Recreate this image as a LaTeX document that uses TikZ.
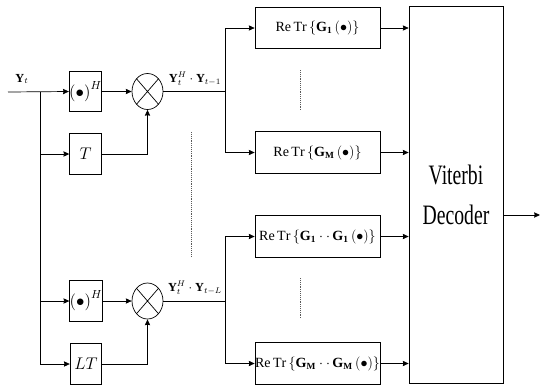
\documentclass[tikz,border=0pt]{standalone}
\usepackage{amsmath,amssymb}
\usepackage{fontspec}
\setmainfont{Liberation Serif}
\newfontfamily\vitfont[FakeStretch=0.7]{Liberation Serif}
\usepackage{tikz}
\usetikzlibrary{arrows.meta,positioning,shapes.geometric}
\newcommand{\dotop}{\left(\bullet\right)}
\newcommand{\retr}[1]{$\mathrm{Re}\,\mathrm{Tr}\left\{#1\dotop\right\}$}

\begin{document}
\begin{tikzpicture}[x=0.03cm,y=-0.03cm,
  blk/.style={draw,line width=0.6pt,minimum width=0.95cm,minimum height=1.22cm,
              inner sep=0pt,font=\Large},
  gbox/.style={draw,line width=0.6pt,minimum width=3.75cm,minimum height=1.24cm,
               inner sep=0pt,font=\fontsize{12}{14}\selectfont},
  mult/.style={draw,ellipse,line width=0.6pt,minimum width=0.93cm,minimum height=1.08cm,
               inner sep=0pt},
  arrow/.style={-{Stealth[length=5pt,width=4.5pt,inset=0.5pt]},line width=0.6pt},
  line/.style={line width=0.6pt},
  dots/.style={densely dotted,line width=0.6pt,gray!70!black},
  sig/.style={font=\fontsize{10.5}{12}\selectfont,inner sep=1pt}]

  \useasboundingbox (0,0) rectangle (544,386);

  % Input and splitting point
  \coordinate (in) at (8,92);
  \coordinate (split) at (40,92);
  \node[sig] (ylab) at (22,79) {$\mathbf{Y}_t$};

  % Upper delay branch
  \node[blk] (herm1) at (85.5,91.5) {$\dotop^{H}$};
  \node[blk] (tdel) at (85.5,154) {$T$};
  \node[mult] (mul1) at (147.5,91.5) {};
  \draw[line] (mul1.north west) -- (mul1.south east)
              (mul1.north east) -- (mul1.south west);

  % Lower delay branch
  \node[blk] (herm2) at (86,301) {$\dotop^{H}$};
  \node[blk] (ltdel) at (86,364) {$LT$};
  \node[mult] (mul2) at (147.5,301) {};
  \draw[line] (mul2.north west) -- (mul2.south east)
              (mul2.north east) -- (mul2.south west);

  % Trace metric blocks
  \node[gbox] (g1) at (317.5,28) {\retr{\mathbf{G}_{\mathbf{1}}}};
  \node[gbox] (gm) at (317.5,152.5) {\retr{\mathbf{G}_{\mathbf{M}}}};
  \node[gbox] (g11) at (317.5,236.5)
    {\retr{\mathbf{G}_{\mathbf{1}}\cdot\cdot\,\mathbf{G}_{\mathbf{1}}}};
  \node[gbox] (gmm) at (317.5,363.5)
    {\retr{\mathbf{G}_{\mathbf{M}}\cdot\cdot\,\mathbf{G}_{\mathbf{M}}}};

  % Decoder
  \node[draw,line width=0.6pt,minimum width=2.82cm,minimum height=11.31cm,
        align=center,font=\vitfont\fontsize{24}{34}\selectfont]
    (vit) at (456,194.5) {Viterbi\\Decoder};
  \coordinate (out) at (540,215);

  % Input wiring
  \draw[arrow] (in) -- (herm1.west);
  \draw[line] (split) -- (40,365);
  \draw[arrow] (split) |- (tdel.west);
  \draw[arrow] (split) |- (herm2.west);
  \draw[arrow] (split) |- (ltdel.west);

  % Into the multipliers
  \draw[arrow] (herm1.east) -- (mul1.west);
  \draw[arrow] (tdel.east) -| (mul1.south);
  \draw[arrow] (herm2.east) -- (mul2.west);
  \draw[arrow] (ltdel.east) -| (mul2.south);

  % Multiplier outputs
  \coordinate (j1) at (225,91.5);
  \coordinate (j2) at (225,301);
  \node[sig] (lab1) at (195,79) {$\mathbf{Y}_t^{H}\cdot\mathbf{Y}_{t-1}$};
  \node[sig] (lab2) at (195,288) {$\mathbf{Y}_t^{H}\cdot\mathbf{Y}_{t-L}$};
  \draw[line] (mul1.east) -- (j1);
  \draw[line] (mul2.east) -- (j2);
  \draw[arrow] (j1) |- (g1.west);
  \draw[arrow] (j1) |- (gm.west);
  \draw[arrow] (j2) |- (g11.west);
  \draw[arrow] (j2) |- (gmm.west);

  % Into the decoder
  \foreach \g in {g1,gm,g11,gmm}
    \draw[arrow] (\g.east) -- (\g.east -| vit.west);
  \draw[arrow] (vit.east |- out) -- (out);

  % Ellipsis marks
  \draw[dots] (300,70) -- (300,110);
  \draw[dots] (300,278) -- (300,318);
  \draw[dots] (191,132) -- (191,257);

\end{tikzpicture}
\end{document}
